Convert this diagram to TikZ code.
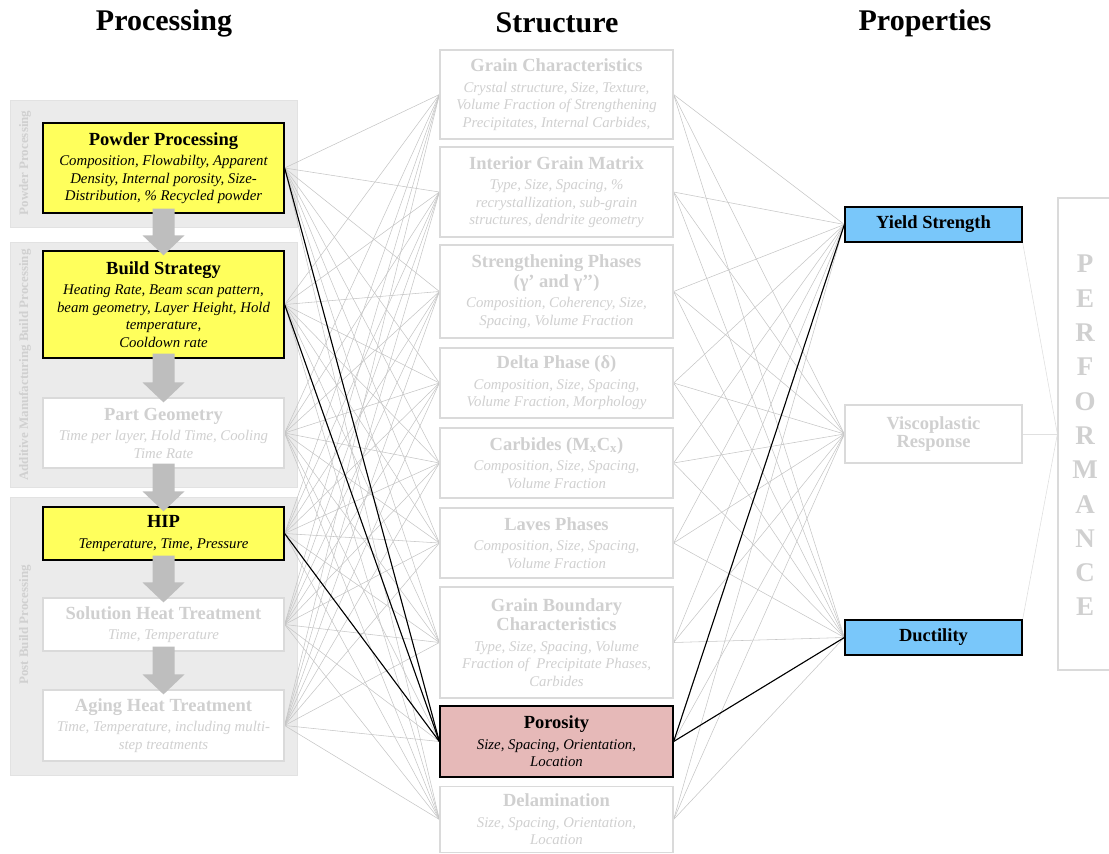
\documentclass[tikz,border=0pt]{standalone}
\usepackage{fontspec}
\setmainfont{Liberation Serif}
\usetikzlibrary{calc}

\pgfdeclarelayer{panels}
\pgfdeclarelayer{links}
\pgfsetlayers{panels,links,main}

\definecolor{panelgray}{HTML}{EBEBEB}
\definecolor{paneledge}{HTML}{E2E2E2}
\definecolor{fadetext}{HTML}{D0D0D0}
\definecolor{fadeline}{HTML}{DADADA}
\definecolor{linkgray}{HTML}{C6C6C6}
\definecolor{perfline}{HTML}{E0E0E0}
\definecolor{hiyellow}{HTML}{FFFF5C}
\definecolor{hiblue}{HTML}{79C7FA}
\definecolor{hipink}{HTML}{E6B9B8}
\definecolor{arrowgray}{HTML}{BEBEBE}

\newcommand\ttlfont{\fontsize{18.5}{21}\selectfont\bfseries\upshape}
\newcommand\bdyfont{\fontsize{14.8}{17.5}\selectfont\itshape}

% grey block arrow from the bottom of one step to the top of the next
\newcommand\flowarrow[2]{%
  \fill[arrowgray] let \p1=(#1.south), \p2=(#2.north) in
    (\x1-11pt,\y1+5pt) -- (\x1+11pt,\y1+5pt) -- (\x1+11pt,\y2+15pt)
    -- (\x1+21pt,\y2+15pt) -- (\x1,\y2-5pt) -- (\x1-21pt,\y2+15pt)
    -- (\x1-11pt,\y2+15pt) -- cycle;}

\tikzset{
  box/.style={rectangle, inner sep=0pt, align=center, font=\bdyfont},
  faded/.style={box, draw=fadeline, line width=1.2pt, fill=white, text=fadetext},
  hilite/.style={box, draw=black, line width=1.3pt},
  procbox/.style={minimum width=241pt},
  strucbox/.style={minimum width=233pt},
  propbox/.style={minimum width=177pt},
  panel/.style={fill=panelgray, draw=paneledge, line width=0.8pt},
  panellabel/.style={rotate=90, text=fadetext, font=\fontsize{13}{15}\selectfont\bfseries},
  heading/.style={font=\fontsize{30}{34}\selectfont\bfseries},
  perfletter/.style={text=fadetext, font=\fontsize{27}{30}\selectfont\bfseries},
  link/.style={draw=linkgray, line width=0.55pt},
  keylink/.style={draw=black, line width=1.1pt},
  perflink/.style={draw=perfline, line width=0.6pt},
}

\begin{document}
\begin{tikzpicture}[x=1pt, y=-1pt]
\useasboundingbox (0,0) rectangle (1109,854);

% column headings
\node[heading] (hproc) at (164,23) {Processing};
\node[heading] (hstruc) at (557,23) {Structure};
\node[heading] (hprop) at (925,23) {Properties};

% grouping panels of the processing chain
\begin{pgfonlayer}{panels}
  \draw[panel] (10,100) rectangle (297,227);
  \draw[panel] (10,242) rectangle (297,487);
  \draw[panel] (10,497) rectangle (297,775);
  \node[panellabel] (lpow) at (25,163) {Powder Processing};
  \node[panellabel] (lbuild) at (25,365) {Additive Manufacturing Build Processing};
  \node[panellabel] (lpost) at (25,625) {Post Build Processing};
\end{pgfonlayer}

% processing steps
\node[hilite, fill=hiyellow, procbox, minimum height=90pt] (pp) at (163.5,168)
  {{\ttlfont Powder Processing}\\[3pt]Composition, Flowabilty, Apparent\\Density, Internal porosity, Size-\\Distribution, \% Recycled powder};
\node[hilite, fill=hiyellow, procbox, minimum height=107pt] (bs) at (163.5,304.5)
  {{\ttlfont Build Strategy}\\[3pt]Heating Rate, Beam scan pattern,\\beam geometry, Layer Height, Hold\\temperature,\\Cooldown rate};
\node[faded, procbox, minimum height=70pt] (pg) at (163.5,433)
  {{\ttlfont Part Geometry}\\[3pt]Time per layer, Hold Time, Cooling\\Time Rate};
\node[hilite, fill=hiyellow, procbox, minimum height=53pt] (hip) at (163.5,533.5)
  {{\ttlfont HIP}\\[3pt]Temperature, Time, Pressure};
\node[faded, procbox, minimum height=53pt] (sht) at (163.5,624.5)
  {{\ttlfont Solution Heat Treatment}\\[3pt]Time, Temperature};
\node[faded, procbox, minimum height=71pt] (aht) at (163.5,725.5)
  {{\ttlfont Aging Heat Treatment}\\[3pt]Time, Temperature, including multi-\\step treatments};

% structure features
\node[faded, strucbox, minimum height=89pt] (gc) at (556.5,94.5)
  {{\ttlfont Grain Characteristics}\\[3pt]Crystal structure, Size, Texture,\\Volume Fraction of Strengthening\\Precipitates, Internal Carbides,};
\node[faded, strucbox, minimum height=90pt] (igm) at (556.5,192)
  {{\ttlfont Interior Grain Matrix}\\[3pt]Type, Size, Spacing, \%\\recrystallization, sub-grain\\structures, dendrite geometry};
\node[faded, strucbox, minimum height=93pt] (sp) at (556.5,291.5)
  {{\ttlfont Strengthening Phases}\\[2pt]{\ttlfont (γ’ and γ’’)}\\[3pt]Composition, Coherency, Size,\\Spacing, Volume Fraction};
\node[faded, strucbox, minimum height=70pt] (dp) at (556.5,383)
  {{\ttlfont Delta Phase (δ)}\\[3pt]Composition, Size, Spacing,\\Volume Fraction, Morphology};
\node[faded, strucbox, minimum height=70pt] (carb) at (556.5,463)
  {{\ttlfont Carbides (M\textsubscript{x}C\textsubscript{x})}\\[3pt]Composition, Size, Spacing,\\Volume Fraction};
\node[faded, strucbox, minimum height=70pt] (lav) at (556.5,543)
  {{\ttlfont Laves Phases}\\[3pt]Composition, Size, Spacing,\\Volume Fraction};
\node[faded, strucbox, minimum height=111pt] (gb) at (556.5,642.5)
  {{\ttlfont Grain Boundary}\\[2pt]{\ttlfont Characteristics}\\[3pt]Type, Size, Spacing, Volume\\Fraction of~ Precipitate Phases,\\Carbides};
\node[hilite, fill=hipink, strucbox, minimum height=71pt] (por) at (556.5,741.5)
  {{\ttlfont Porosity}\\[3pt]Size, Spacing, Orientation,\\Location};
\node[faded, strucbox, minimum height=66pt] (del) at (556.5,819.5)
  {{\ttlfont Delamination}\\[3pt]Size, Spacing, Orientation,\\Location};

% properties
\node[hilite, fill=hiblue, propbox, minimum height=35pt] (ys) at (933.5,224.5)
  {\ttlfont Yield Strength};
\node[faded, propbox, minimum height=58pt] (vr) at (933.5,434)
  {{\ttlfont Viscoplastic}\\[1pt]{\ttlfont Response}};
\node[hilite, fill=hiblue, propbox, minimum height=35pt] (du) at (933.5,637.5)
  {\ttlfont Ductility};

% performance column (runs past the right edge)
\node[draw=fadeline, line width=1.2pt, rectangle, inner sep=0pt,
      minimum width=62pt, minimum height=472pt] (perf) at (1089,434) {};
\foreach \l [count=\i from 0] in {P,E,R,F,O,R,M,A,N,C,E}
  \node[perfletter] (perf\i) at (1085,264+34.3*\i) {\l};

% connectors
\begin{pgfonlayer}{links}
  \foreach \a in {pp,bs,pg,hip,sht,aht}
    \foreach \b in {gc,igm,sp,dp,carb,lav,gb,por,del}
      \draw[link] (\a.east) -- (\b.west);
  \foreach \a in {gc,igm,sp,dp,carb,lav,gb,por,del}
    \foreach \b in {ys,vr,du}
      \draw[link] (\a.east) -- (\b.west);
  \draw[perflink] (ys.south east) -- (perf.west);
  \draw[perflink] (vr.east) -- (perf.west);
  \draw[perflink] (du.north east) -- (perf.west);
  \foreach \a in {pp,bs,hip}
    \draw[keylink] (\a.east) -- (por.west);
  \draw[keylink] (por.east) -- (ys.west);
  \draw[keylink] (por.east) -- (du.west);
\end{pgfonlayer}

% processing sequence
\flowarrow{pp}{bs}
\flowarrow{bs}{pg}
\flowarrow{pg}{hip}
\flowarrow{hip}{sht}
\flowarrow{sht}{aht}
\end{tikzpicture}
\end{document}
